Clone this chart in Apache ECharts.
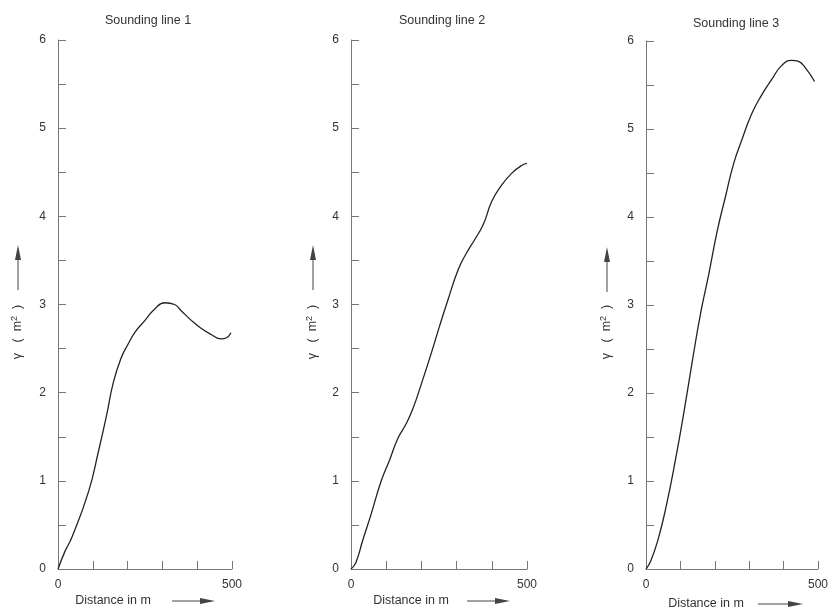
<!DOCTYPE html>
<html>
<head>
<meta charset="utf-8">
<script src="https://cdn.jsdelivr.net/npm/echarts@6/dist/echarts.min.js"></script>
<style>
  html, body { margin: 0; padding: 0; background: #fff; }
  #chart { width: 831px; height: 609px; }
</style>
</head>
<body>
<div id="chart"></div>
<script>
  // values: distance in m, gamma in m^2
  var dist1 = [0, 20, 40, 88, 116, 140, 158, 180, 200, 222, 250, 278, 307, 335, 354, 383, 411, 440, 469, 483, 497];
  var gamma1 = [0, 0.2, 0.36, 0.88, 1.33, 1.75, 2.1, 2.38, 2.54, 2.69, 2.82, 2.95, 3.02, 3.0, 2.93, 2.82, 2.73, 2.66, 2.61, 2.62, 2.68];

  var dist2 = [0, 14, 33, 57, 86, 110, 133, 157, 176, 200, 229, 252, 276, 305, 329, 352, 376, 400, 429, 457, 486, 500];
  var gamma2 = [0, 0.075, 0.32, 0.62, 1.0, 1.24, 1.48, 1.65, 1.82, 2.1, 2.46, 2.76, 3.06, 3.4, 3.59, 3.74, 3.91, 4.17, 4.36, 4.49, 4.58, 4.6];

  var dist3 = [0, 14, 34, 58, 87, 111, 135, 159, 183, 207, 231, 255, 279, 308, 337, 365, 394, 423, 442, 466, 490];
  var gamma3 = [0, 0.095, 0.32, 0.7, 1.27, 1.8, 2.37, 2.91, 3.36, 3.84, 4.23, 4.61, 4.88, 5.18, 5.39, 5.56, 5.72, 5.78, 5.77, 5.68, 5.54];

  var titles = ['Sounding line 1', 'Sounding line 2', 'Sounding line 3'];
  var xTickLabels = [0, 500];
  var yTickLabels = [0, 1, 2, 3, 4, 5, 6];

  var font = '"Liberation Sans", Arial, sans-serif';
  var ink = '#333';
  var axisGrey = '#777';

  // grid boxes of the three panels
  var grids = [
    { left: 58, top: 40, width: 174, height: 529 },
    { left: 351, top: 40, width: 176, height: 529 },
    { left: 646, top: 41, width: 174, height: 528 }
  ];

  function pairs(xs, ys) {
    var out = [];
    for (var i = 0; i < xs.length; i++) out.push([xs[i], ys[i]]);
    return out;
  }

  var xAxes = [], yAxes = [], series = [], titleList = [], graphics = [];
  var seriesData = [pairs(dist1, gamma1), pairs(dist2, gamma2), pairs(dist3, gamma3)];

  for (var i = 0; i < 3; i++) {
    var g = grids[i];
    xAxes.push({
      gridIndex: i, type: 'value', min: 0, max: 500, interval: 100,
      axisLine: { show: true, lineStyle: { color: axisGrey, width: 1 } },
      axisTick: { show: true, inside: true, length: 8, lineStyle: { color: axisGrey } },
      axisLabel: {
        color: ink, fontFamily: font, fontSize: 12, margin: 10,
        formatter: function (v) { return xTickLabels.indexOf(v) >= 0 ? String(v) : ''; }
      },
      splitLine: { show: false }
    });
    yAxes.push({
      gridIndex: i, type: 'value', min: 0, max: 6, interval: 0.5,
      axisLine: { show: true, lineStyle: { color: axisGrey, width: 1 } },
      axisTick: { show: true, inside: true, length: 8, lineStyle: { color: axisGrey } },
      axisLabel: {
        color: ink, fontFamily: font, fontSize: 12, margin: 12,
        formatter: function (v) { return yTickLabels.indexOf(v) >= 0 ? String(v) : ''; }
      },
      splitLine: { show: false }
    });
    series.push({
      type: 'line', xAxisIndex: i, yAxisIndex: i,
      data: seriesData[i], smooth: true, showSymbol: false,
      lineStyle: { color: '#222', width: 1.3 }
    });
    titleList.push({
      text: titles[i], left: g.left + g.width / 2 - 2, top: i === 2 ? 12 : 9,
      textAlign: 'center',
      textStyle: { color: ink, fontFamily: font, fontSize: 12.5, fontWeight: 'normal' }
    });
  }

  // axis names with their arrows
  var xNames = [
    { cx: 113, y: 601, a0: 172, a1: 215 },
    { cx: 411, y: 601, a0: 467, a1: 510 },
    { cx: 706, y: 604, a0: 758, a1: 803 }
  ];
  var yNames = [
    { x: 18, cy: 332, a0: 290, a1: 245 },
    { x: 313, cy: 332, a0: 290, a1: 245 },
    { x: 607, cy: 332, a0: 292, a1: 247 }
  ];
  xNames.forEach(function (n) {
    graphics.push({
      type: 'text', x: n.cx, y: n.y,
      style: { text: 'Distance in m', fill: ink, font: '12.5px ' + font, textAlign: 'center', textVerticalAlign: 'middle' }
    });
    graphics.push({
      type: 'line', shape: { x1: n.a0, y1: n.y, x2: n.a1 - 12, y2: n.y },
      style: { stroke: '#444', lineWidth: 1 }
    });
    graphics.push({
      type: 'polygon',
      shape: { points: [[n.a1 - 15, n.y - 3], [n.a1, n.y], [n.a1 - 15, n.y + 3]] },
      style: { fill: '#444' }
    });
  });
  yNames.forEach(function (n) {
    graphics.push({
      type: 'text', x: n.x, y: n.cy, rotation: Math.PI / 2,
      style: {
        text: '{a|γ   (  m}{s|2}{a|  )}',
        rich: {
          a: { fill: ink, fontFamily: font, fontSize: 12.5 },
          s: { fill: ink, fontFamily: font, fontSize: 9, verticalAlign: 'top', padding: [0, 0, 6, 0] }
        },
        textAlign: 'center', textVerticalAlign: 'middle'
      }
    });
    graphics.push({
      type: 'line', shape: { x1: n.x, y1: n.a0, x2: n.x, y2: n.a1 + 12 },
      style: { stroke: '#444', lineWidth: 1 }
    });
    graphics.push({
      type: 'polygon',
      shape: { points: [[n.x - 3, n.a1 + 15], [n.x, n.a1], [n.x + 3, n.a1 + 15]] },
      style: { fill: '#444' }
    });
  });

  var chart = echarts.init(document.getElementById('chart'));
  chart.setOption({
    backgroundColor: '#fff',
    animation: false,
    title: titleList,
    grid: grids,
    xAxis: xAxes,
    yAxis: yAxes,
    series: series,
    graphic: graphics
  });
</script>
</body>
</html>
